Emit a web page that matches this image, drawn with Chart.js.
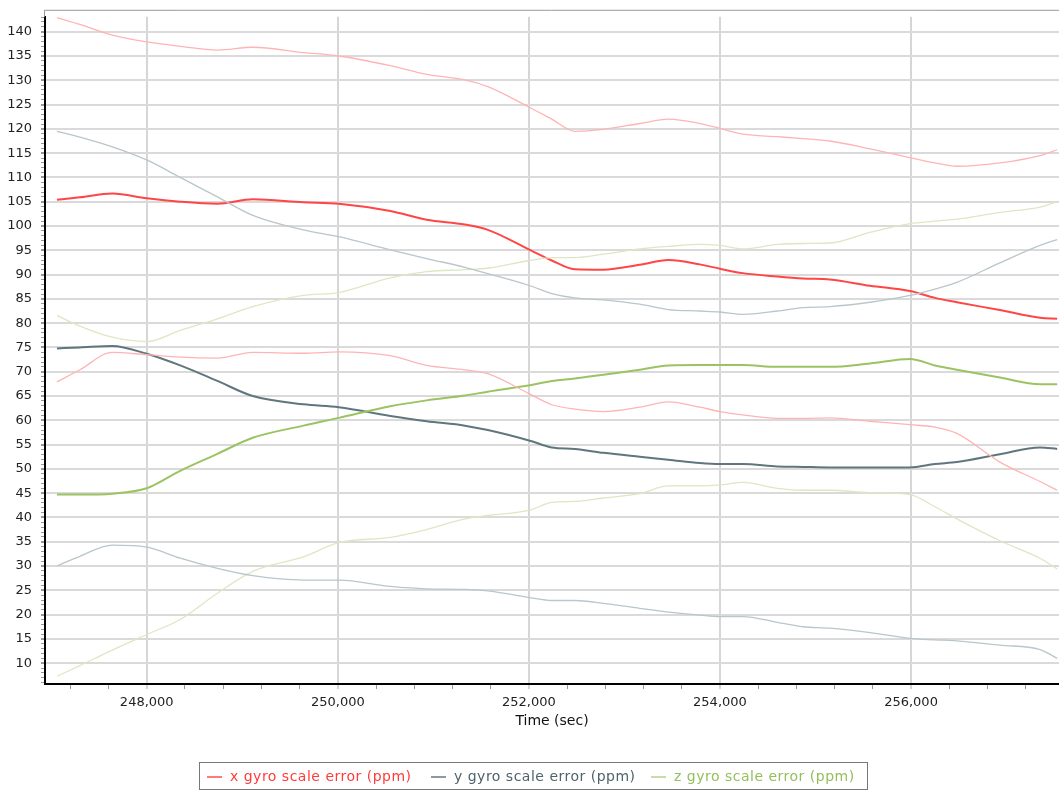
<!DOCTYPE html>
<html>
<head>
<meta charset="utf-8">
<title>Gyro scale error</title>
<script src="https://cdn.jsdelivr.net/npm/chart.js@4.4.1/dist/chart.umd.min.js"></script>
<style>
  html, body { margin: 0; padding: 0; background: #fff; }
  #wrap { position: relative; width: 1059px; height: 791px; }
  #legend {
    position: absolute; left: 199px; top: 762px; width: 667px; height: 26px;
    border: 1px solid #777; font: 14px 'DejaVu Sans', sans-serif; letter-spacing: 0.5px;
  }
  .item { position: absolute; top: 0; line-height: 26px; white-space: nowrap; }
  .item i { display: inline-block; width: 15px; height: 2px; vertical-align: middle; margin-right: 8px; }
</style>
</head>
<body>
<div id="wrap">
  <canvas id="chart" width="1059" height="791"></canvas>
  <div id="legend"></div>
</div>
<script>
// sample times (sec)
const times = [247060, 247300, 247640, 248000, 248350, 248740, 249110, 249640, 250010, 250550,
  250930, 251330, 251570, 252010, 252240, 252480, 252780, 253160, 253460, 253790,
  254000, 254240, 254600, 254870, 255150, 255570, 255990, 256250, 256480, 256930,
  257350, 257530];

// x gyro: estimate and upper/lower bounds (ppm)
const xUpper = [142.9, 141.5, 139.3, 137.9, 137.0, 136.2, 136.8, 135.7, 135.0, 133.0,
  131.2, 130.1, 128.7, 124.4, 122.0, 119.5, 119.9, 121.1, 122.0, 121.1,
  120.1, 118.9, 118.4, 118.0, 117.5, 115.9, 114.1, 113.0, 112.3, 113.0,
  114.5, 115.7];
const xMean = [105.4, 105.9, 106.7, 105.7, 105.0, 104.6, 105.5, 104.9, 104.6, 103.1,
  101.3, 100.3, 99.2, 95.1, 92.9, 91.1, 91.0, 92.0, 93.0, 92.1,
  91.2, 90.3, 89.6, 89.2, 89.0, 87.7, 86.6, 85.2, 84.3, 82.7,
  81.1, 80.9];
const xLower = [67.9, 70.4, 74.0, 73.5, 73.0, 72.8, 74.0, 73.8, 74.1, 73.3,
  71.3, 70.4, 69.6, 65.4, 63.2, 62.3, 61.8, 62.7, 63.8, 62.7,
  61.8, 61.1, 60.4, 60.4, 60.5, 59.8, 59.1, 58.6, 57.3, 51.4,
  47.4, 45.6];

// y gyro
const yUpper = [119.5, 118.3, 116.3, 113.6, 110.0, 106.0, 102.2, 99.2, 97.8, 95.1,
  93.3, 91.5, 90.2, 87.7, 86.1, 85.2, 84.8, 83.9, 82.8, 82.5,
  82.3, 81.8, 82.5, 83.2, 83.4, 84.3, 85.7, 87.0, 88.4, 92.4,
  96.0, 97.2];
const yMean = [74.8, 75.0, 75.3, 73.7, 71.3, 68.1, 65.0, 63.3, 62.7, 60.9,
  59.8, 58.9, 58.0, 55.8, 54.4, 54.1, 53.3, 52.5, 51.9, 51.2,
  51.0, 51.0, 50.5, 50.4, 50.3, 50.3, 50.3, 51.0, 51.4, 53.0,
  54.4, 54.1];
const yLower = [30.0, 32.0, 34.3, 33.9, 31.6, 29.5, 28.0, 27.1, 27.1, 25.8,
  25.3, 25.2, 24.9, 23.5, 22.9, 22.9, 22.3, 21.3, 20.5, 19.9,
  19.6, 19.6, 18.4, 17.5, 17.2, 16.3, 15.1, 14.8, 14.6, 13.7,
  12.8, 11.0];

// z gyro
const zUpper = [81.6, 79.4, 77.1, 76.2, 78.5, 80.9, 83.4, 85.7, 86.3, 89.3,
  90.6, 91.0, 91.3, 92.9, 93.5, 93.5, 94.2, 95.3, 95.8, 96.2,
  96.0, 95.3, 96.2, 96.4, 96.5, 98.7, 100.5, 101.0, 101.4, 102.8,
  103.9, 105.0];
const zMean = [44.7, 44.7, 44.9, 46.0, 49.6, 53.1, 56.4, 58.9, 60.5, 62.9,
  64.1, 65.1, 65.9, 67.2, 68.1, 68.6, 69.4, 70.4, 71.3, 71.4,
  71.4, 71.4, 71.0, 71.0, 71.0, 71.7, 72.6, 71.3, 70.4, 68.8,
  67.4, 67.4];
const zLower = [7.3, 9.5, 12.7, 15.9, 19.0, 24.4, 28.9, 31.9, 34.8, 35.9,
  37.5, 39.7, 40.4, 41.5, 43.1, 43.3, 44.0, 44.9, 46.5, 46.5,
  46.7, 47.2, 46.0, 45.6, 45.6, 45.1, 44.7, 42.2, 39.7, 35.2,
  31.6, 29.4];

const legendItems = [
  { label: 'x gyro scale error (ppm)', text: '#ff3b3b', swatch: '#ff7a7a' },
  { label: 'y gyro scale error (ppm)', text: '#4f636b', swatch: '#8a9aa0' },
  { label: 'z gyro scale error (ppm)', text: '#93bf5c', swatch: '#c6dda6' }
];

function pts(vals) {
  return vals.map((v, i) => ({ x: times[i], y: v }));
}

function line(label, vals, color, width) {
  return {
    label: label,
    data: pts(vals),
    borderColor: color,
    borderWidth: width,
    pointRadius: 0,
    fill: false,
    cubicInterpolationMode: 'monotone'
  };
}

const datasets = [
  line('x upper', xUpper, '#ffb4b4', 1.3),
  line('x lower', xLower, '#ffb4b4', 1.3),
  line('y upper', yUpper, '#b9c6cb', 1.3),
  line('y lower', yLower, '#b9c6cb', 1.3),
  line('z upper', zUpper, '#dce8c3', 1.3),
  line('z lower', zLower, '#dce8c3', 1.3),
  line('z gyro scale error (ppm)', zMean, '#9cc362', 2),
  line('y gyro scale error (ppm)', yMean, '#5f767e', 2),
  line('x gyro scale error (ppm)', xMean, '#ff4545', 2)
];

// gray frame line above the plot
const topLine = {
  id: 'topLine',
  afterDraw(chart) {
    const { ctx, chartArea } = chart;
    ctx.save();
    ctx.strokeStyle = '#9a9a9a';
    ctx.lineWidth = 1;
    ctx.beginPath();
    ctx.moveTo(chartArea.left - 1, chartArea.top - 6.5);
    ctx.lineTo(chart.width, chartArea.top - 6.5);
    ctx.moveTo(chartArea.left - 0.5, chartArea.top - 6.5);
    ctx.lineTo(chartArea.left - 0.5, chartArea.top);
    ctx.stroke();
    ctx.restore();
  }
};

Chart.defaults.font.family = "'DejaVu Sans', sans-serif";
Chart.defaults.color = '#222';

new Chart(document.getElementById('chart'), {
  type: 'line',
  data: { datasets: datasets },
  options: {
    responsive: false,
    animation: false,
    layout: { padding: { top: 12, right: 0, bottom: 57, left: 0 } },
    plugins: { legend: { display: false }, tooltip: { enabled: false } },
    scales: {
      x: {
        type: 'linear',
        min: 246935,
        max: 257549,
        afterFit: s => { s.height = 50; },
        border: { color: '#000', width: 2 },
        grid: {
          color: c => (c.tick && c.tick.value % 2000 === 0) ? '#d6d6d6' : 'rgba(0,0,0,0)',
          tickColor: c => (c.tick && c.tick.value % 2000 === 0) ? '#d6d6d6' : '#999',
          lineWidth: c => (c.tick && c.tick.value % 2000 === 0) ? 2 : 1,
          tickLength: 5
        },
        ticks: {
          stepSize: 400,
          autoSkip: false,
          includeBounds: false,
          maxRotation: 0,
          padding: 6,
          font: { size: 13 },
          color: '#222',
          callback: v => v % 2000 === 0 ? v.toLocaleString('en-US') : ''
        },
        title: {
          display: true,
          text: 'Time (sec)',
          font: { size: 14 },
          color: '#111',
          padding: { top: 4, bottom: 4 }
        }
      },
      y: {
        min: 5.71,
        max: 143.07,
        afterFit: s => { s.width = 45; },
        border: { color: '#000', width: 2 },
        grid: {
          color: c => (c.tick && c.tick.value % 5 === 0) ? '#dadada' : 'rgba(0,0,0,0)',
          tickColor: '#999',
          lineWidth: c => (c.tick && c.tick.value % 5 === 0) ? 2 : 1,
          tickLength: 4
        },
        ticks: {
          stepSize: 1,
          autoSkip: false,
          includeBounds: false,
          padding: 9,
          font: { size: 13 },
          color: '#222',
          callback: v => v % 5 === 0 ? String(v) : ''
        }
      }
    }
  },
  plugins: [topLine]
});

// legend box below the axis
const lefts = [7, 231, 451];
const legendEl = document.getElementById('legend');
legendItems.forEach((it, i) => {
  const d = document.createElement('div');
  d.className = 'item';
  d.style.left = lefts[i] + 'px';
  d.style.color = it.text;
  d.innerHTML = '<i style="background:' + it.swatch + '"></i>' + it.label;
  legendEl.appendChild(d);
});
</script>
</body>
</html>
